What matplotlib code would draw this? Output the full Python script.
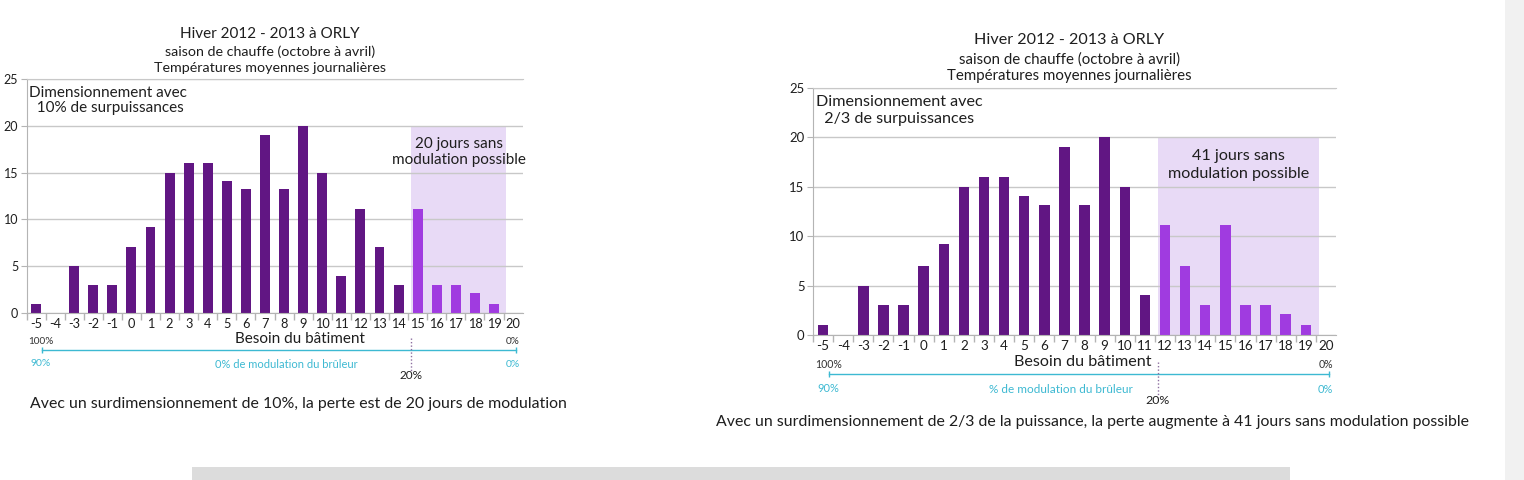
import matplotlib
matplotlib.use('Agg')
import matplotlib.pyplot as plt
from matplotlib.patches import Rectangle

plt.rcParams['font.family'] = ['Lato', 'DejaVu Sans']

# donnees : nombre de jours par temperature moyenne journaliere (Orly, hiver 2012-2013)
temperatures = list(range(-5, 21))
jours = [1, 0, 5, 3, 3, 7, 9.2, 15, 16, 16, 14.1, 13.2, 19, 13.2, 20, 15,
         4, 11.1, 7, 3, 11.1, 3, 3, 2.1, 1, 0]

titres = ["Hiver 2012 - 2013 à ORLY",
          "saison de chauffe (octobre à avril)",
          "Températures moyennes journalières"]
surpuissances = ["10%", "2/3"]
seuils = [15, 12]            # premiere temperature sans modulation possible
jours_sans = ["20 jours sans", "41 jours sans"]
textes_modulation = ["0% de modulation du brûleur", "% de modulation du brûleur"]
legendes = ["Avec un surdimensionnement de 10%, la perte est de 20 jours de modulation",
            "Avec un surdimensionnement de 2/3 de la puissance, la perte augmente à 41 jours sans modulation possible"]

FONCE = '#611683'
CLAIR = '#a03be0'
OMBRE = '#e8daf6'
TURQUOISE = '#3db9d2'
GRIS = '#b4b4b4'
TEXTE = '#1e1e1e'

W, H = 1524, 480


def rect_px(x0, x1, y_top, y_bas):
    return [x0 / W, 1 - y_bas / H, (x1 - x0) / W, (y_bas - y_top) / H]


def dessine(ax, k, seuil, surpuissance, txt_jours, txt_modul, x_besoin, x_modul):
    # k : facteur d'echelle du graphique (le second est un peu plus grand)
    x = list(range(len(temperatures)))
    couleurs = [CLAIR if t >= seuil else FONCE for t in temperatures]
    ax.bar(x, jours, width=0.52, color=couleurs, zorder=2)

    i0 = temperatures.index(seuil) - 0.35
    i1 = len(temperatures) - 1.35
    ax.axvspan(i0, i1, ymax=0.8, color=OMBRE, lw=0, zorder=0)

    ax.set_xlim(-0.5, len(temperatures) - 0.5)
    ax.set_ylim(0, 25)
    ax.set_yticks([0, 5, 10, 15, 20, 25])
    ax.yaxis.grid(True, color='#c8c8c8', lw=1)
    ax.set_axisbelow(True)

    ax.set_xticks(x)
    ax.set_xticklabels([str(t) for t in temperatures])
    ax.set_xticks([i - 0.5 for i in x], minor=True)
    ax.tick_params(axis='x', which='major', length=0, pad=3.5, labelsize=9.2 * k, labelcolor=TEXTE)
    ax.tick_params(axis='x', which='minor', length=5, color=GRIS, width=1)
    ax.tick_params(axis='y', length=4, color=GRIS, pad=2, labelsize=9 * k, labelcolor=TEXTE)

    for s in ['left', 'bottom']:
        ax.spines[s].set_color(GRIS)
    ax.spines['top'].set_color('#c8c8c8')
    ax.spines['right'].set_visible(False)

    # titre
    ax.text(12.25, 29.85, titres[0], ha='center', va='center', fontsize=11 * k, color=TEXTE)
    ax.text(12.25, 27.9, titres[1], ha='center', va='center', fontsize=10.3 * k, color=TEXTE)
    ax.text(12.25, 26.2, titres[2], ha='center', va='center', fontsize=10.3 * k, color=TEXTE)

    ax.text(-0.35, 23.55, "Dimensionnement avec", ha='left', va='center', fontsize=11 * k, color=TEXTE)
    ax.text(-0.35, 21.85, "  " + surpuissance + " de surpuissances", ha='left', va='center',
            fontsize=11 * k, color=TEXTE)

    xm = (i0 + i1) / 2
    ax.text(xm, 18.1, txt_jours, ha='center', va='center', fontsize=11 * k, color=TEXTE)
    ax.text(xm, 16.3, "modulation possible", ha='center', va='center', fontsize=11 * k, color=TEXTE)

    # echelles sous l'axe
    ax.text(x_besoin, -2.75, "Besoin du bâtiment", ha='center', va='center', fontsize=11 * k, color=TEXTE)
    ax.text(0.26, -3.0, "100%", ha='center', va='center', fontsize=7.2 * k, color='#333333')
    ax.text(25.36, -3.0, "0%", ha='right', va='center', fontsize=7.2 * k, color='#333333')
    ax.plot([0.3, 25.13], [-3.9, -3.9], color=TURQUOISE, lw=1, marker='|', ms=5, mew=1, clip_on=False)
    ax.text(0.26, -5.4, "90%", ha='center', va='center', fontsize=7.5 * k, color=TURQUOISE)
    ax.text(25.36, -5.55, "0%", ha='right', va='center', fontsize=7.5 * k, color=TURQUOISE)
    ax.text(x_modul, -5.55, txt_modul, ha='center', va='center', fontsize=8 * k, color=TURQUOISE)
    ax.plot([i0, i0], [-2.7, -6.3], color='#8d6fa0', lw=1, ls=(0, (1, 1.5)), clip_on=False)
    ax.text(i0, -6.65, "20%", ha='center', va='center', fontsize=8.5 * k, color=TEXTE)


fig = plt.figure(figsize=(W / 100, H / 100), dpi=100)

ax1 = fig.add_axes(rect_px(26.5, 522.6, 79, 313))
dessine(ax1, 1.0, seuils[0], surpuissances[0], jours_sans[0], textes_modulation[0], 13.85, 13.1)

ax2 = fig.add_axes(rect_px(813, 1336, 88, 335))
dessine(ax2, 1.054, seuils[1], surpuissances[1], jours_sans[1], textes_modulation[1], 12.9, 11.84)

fig.text(30 / W, 1 - 404 / H, legendes[0], ha='left', va='center', fontsize=11.4, color=TEXTE)
fig.text(716 / W, 1 - 422 / H, legendes[1], ha='left', va='center', fontsize=11.4, color=TEXTE)

# elements de la page autour des graphiques
fig.add_artist(Rectangle((192 / W, 0), (1290 - 192) / W, 13 / H, transform=fig.transFigure,
                         color='#dcdcdc', lw=0))
fig.add_artist(Rectangle((1505 / W, 0), 19 / W, 1, transform=fig.transFigure,
                         color='#f1f1f1', lw=0))

fig.savefig('out.png', dpi=100)
